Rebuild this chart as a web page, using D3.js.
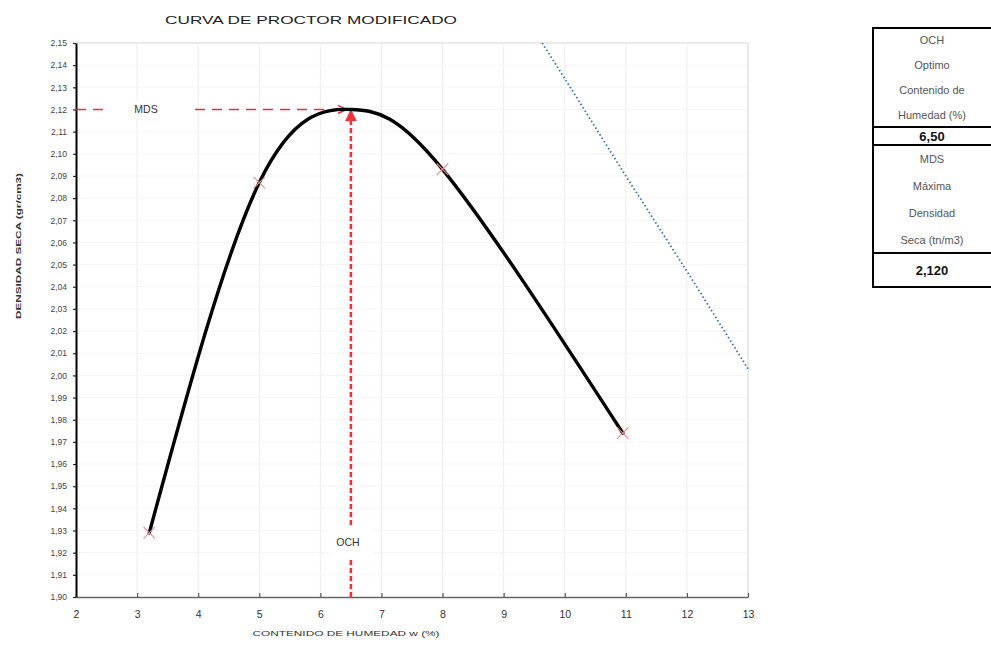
<!DOCTYPE html>
<html>
<head>
<meta charset="utf-8">
<script src="https://cdn.jsdelivr.net/npm/d3@7/dist/d3.min.js"></script>
<style>
  html, body { margin: 0; padding: 0; background: #fff; overflow: hidden; }
  svg { display: block; font-family: "Liberation Sans", Arial, sans-serif; }
</style>
</head>
<body>
<svg id="chart" width="991" height="658"></svg>
<script>
// ---------- DATA ----------
const title = "CURVA DE PROCTOR MODIFICADO";
const xLabel = "CONTENIDO DE HUMEDAD w (%)";
const yLabel = "DENSIDAD SECA (gr/cm3)";
const xTicks = [2, 3, 4, 5, 6, 7, 8, 9, 10, 11, 12, 13];
const yTicks = [1.90, 1.91, 1.92, 1.93, 1.94, 1.95, 1.96, 1.97, 1.98, 1.99, 2.00,
                2.01, 2.02, 2.03, 2.04, 2.05, 2.06, 2.07, 2.08, 2.09, 2.10,
                2.11, 2.12, 2.13, 2.14, 2.15];
// measured points (humedad %, densidad seca)
const humedad = [3.2, 5.0, 8.0, 10.95];
const densidad = [1.929, 2.087, 2.093, 1.974];
// optimum
const och = 6.50;
const mds = 2.120;
// saturation line
const satHumedad = [9.63, 10, 11, 12, 13];
const satDensidad = [2.150, 2.134, 2.090, 2.047, 2.003];
// table
const tableHeader1 = ["OCH", "Optimo", "Contenido de", "Humedad (%)"];
const tableValue1 = "6,50";
const tableHeader2 = ["MDS", "Máxima", "Densidad", "Seca (tn/m3)"];
const tableValue2 = "2,120";

// ---------- CHART ----------
const svg = d3.select("#chart");
const x = d3.scaleLinear().domain([2, 13]).range([76, 748]);
const y = d3.scaleLinear().domain([1.90, 2.15]).range([597, 43]);
const loc = d3.formatLocale({decimal: ",", thousands: ".", grouping: [3], currency: ["", ""]});
const f2 = loc.format(".2f");

// grid
svg.append("g").selectAll("line").data(xTicks.slice(1)).join("line")
  .attr("x1", d => x(d)).attr("x2", d => x(d)).attr("y1", y(2.15)).attr("y2", y(1.90))
  .attr("stroke", "#ededed").attr("stroke-width", 1);
svg.append("g").selectAll("line").data(yTicks.slice(1)).join("line")
  .attr("x1", x(2)).attr("x2", x(13)).attr("y1", d => y(d)).attr("y2", d => y(d))
  .attr("stroke", "#f5f5f5").attr("stroke-width", 1);
// frame top/right
svg.append("path")
  .attr("d", `M${x(2)},${y(2.15)}H${x(13)}V${y(1.90)}`)
  .attr("fill", "none").attr("stroke", "#dcdcdc").attr("stroke-width", 1);

// x axis
const gx = svg.append("g").attr("transform", `translate(0,${y(1.90)})`)
  .call(d3.axisBottom(x).tickValues(xTicks).tickFormat(d3.format("d")).tickSizeInner(-4).tickSizeOuter(0).tickPadding(14));
gx.select(".domain").attr("stroke", "#666").attr("stroke-width", 1.6);
gx.selectAll(".tick line").attr("stroke", "#555").attr("stroke-width", 1.2);
gx.selectAll(".tick text").attr("font-size", 10.5).attr("fill", "#333");

// y axis
const gy = svg.append("g").attr("transform", `translate(${x(2)},0)`)
  .call(d3.axisLeft(y).tickValues(yTicks).tickFormat(f2).tickSizeInner(3).tickSizeOuter(0).tickPadding(6));
gy.select(".domain").attr("stroke", "#000").attr("stroke-width", 2);
gy.selectAll(".tick line").attr("stroke", "#222").attr("stroke-width", 1.2);
gy.selectAll(".tick text").attr("font-size", 8.5).attr("fill", "#444");

// title & labels
svg.append("text").attr("x", 311).attr("y", 24).attr("text-anchor", "middle")
  .attr("font-size", 11.5).attr("fill", "#222").attr("textLength", 292).attr("lengthAdjust", "spacingAndGlyphs")
  .text(title);
svg.append("text").attr("x", 346).attr("y", 636).attr("text-anchor", "middle")
  .attr("font-size", 8).attr("fill", "#333").attr("textLength", 187).attr("lengthAdjust", "spacingAndGlyphs")
  .text(xLabel);
svg.append("text").attr("transform", "translate(21,246) rotate(-90)").attr("text-anchor", "middle")
  .attr("font-size", 8).attr("font-weight", "bold").attr("fill", "#333").attr("textLength", 146).attr("lengthAdjust", "spacingAndGlyphs")
  .text(yLabel);

// saturation line
const satData = satHumedad.map((w, i) => [w, satDensidad[i]]);
svg.append("path").datum(satData)
  .attr("d", d3.line().x(d => x(d[0])).y(d => y(d[1])))
  .attr("fill", "none").attr("stroke", "#3a6fb0").attr("stroke-width", 1.8)
  .attr("stroke-dasharray", "1.5,2.5");

// arrow markers
const defs = svg.append("defs");
defs.append("marker").attr("id", "arrH").attr("viewBox", "0 0 10 10").attr("refX", 9).attr("refY", 5)
  .attr("markerWidth", 10).attr("markerHeight", 10).attr("markerUnits", "userSpaceOnUse").attr("orient", "auto")
  .append("path").attr("d", "M0,1 L9,5 L0,9").attr("fill", "none").attr("stroke", "#e8303c").attr("stroke-width", 1.5);
defs.append("marker").attr("id", "arrV").attr("viewBox", "0 0 10 10").attr("refX", 9).attr("refY", 5)
  .attr("markerWidth", 12).attr("markerHeight", 12).attr("markerUnits", "userSpaceOnUse").attr("orient", "auto")
  .append("path").attr("d", "M0,0 L10,5 L0,10 Z").attr("fill", "#f0303c");

// MDS horizontal line
svg.append("line").attr("x1", x(2)).attr("x2", x(och) - 4).attr("y1", y(mds)).attr("y2", y(mds))
  .attr("stroke", "#e8303c").attr("stroke-width", 1.5).attr("stroke-dasharray", "10,7")
  .attr("marker-end", "url(#arrH)");
svg.append("rect").attr("x", 108).attr("y", y(mds) - 8).attr("width", 86).attr("height", 16).attr("fill", "#fff");
svg.append("text").attr("x", 146).attr("y", y(mds) + 4).attr("text-anchor", "middle")
  .attr("font-size", 10.5).attr("fill", "#333").text("MDS");

// OCH vertical line
svg.append("line").attr("x1", x(och)).attr("x2", x(och)).attr("y1", y(1.90)).attr("y2", y(mds) + 1)
  .attr("stroke", "#f0303c").attr("stroke-width", 2.6).attr("stroke-dasharray", "5,3")
  .attr("marker-end", "url(#arrV)");
svg.append("rect").attr("x", x(och) - 22).attr("y", 527).attr("width", 44).attr("height", 31).attr("fill", "#fff");
svg.append("text").attr("x", x(och) - 3).attr("y", 546).attr("text-anchor", "middle")
  .attr("font-size", 10.5).attr("fill", "#333").text("OCH");

// curve through measured points and optimum
const pts = humedad.map((w, i) => [w, densidad[i]]);
const curvePts = pts.concat([[och, mds]]).sort((a, b) => a[0] - b[0]);
svg.append("path").datum(curvePts)
  .attr("d", d3.line().x(d => x(d[0])).y(d => y(d[1])).curve(d3.curveNatural))
  .attr("fill", "none").attr("stroke", "#000").attr("stroke-width", 3.4).attr("stroke-linecap", "round");

// markers
svg.append("g").selectAll("path").data(pts).join("path")
  .attr("d", d3.symbol(d3.symbolX, 90))
  .attr("transform", d => `translate(${x(d[0])},${y(d[1])})`)
  .attr("fill", "none").attr("stroke", "#ee8a92").attr("stroke-width", 1.1);

// ---------- TABLE ----------
const tx0 = 873, tx1 = 1000, tcx = 932;
const rows = [
  {y0: 28, y1: 127, lines: tableHeader1, bold: false},
  {y0: 127, y1: 145, lines: [tableValue1], bold: true},
  {y0: 145, y1: 253, lines: tableHeader2, bold: false},
  {y0: 253, y1: 287, lines: [tableValue2], bold: true}
];
const tg = svg.append("g");
rows.forEach(r => {
  tg.append("rect").attr("x", tx0).attr("y", r.y0).attr("width", tx1 - tx0).attr("height", r.y1 - r.y0)
    .attr("fill", "#fff").attr("stroke", "#000").attr("stroke-width", 2);
  const n = r.lines.length;
  const step = (r.y1 - r.y0) / n;
  r.lines.forEach((t, i) => {
    tg.append("text").attr("x", tcx).attr("y", r.y0 + step * (i + 0.5) + (r.bold ? 5 : 4))
      .attr("text-anchor", "middle")
      .attr("font-size", r.bold ? 13 : 11)
      .attr("font-weight", r.bold ? "bold" : "normal")
      .attr("fill", r.bold ? "#111" : "#555")
      .text(t);
  });
});
</script>
</body>
</html>
